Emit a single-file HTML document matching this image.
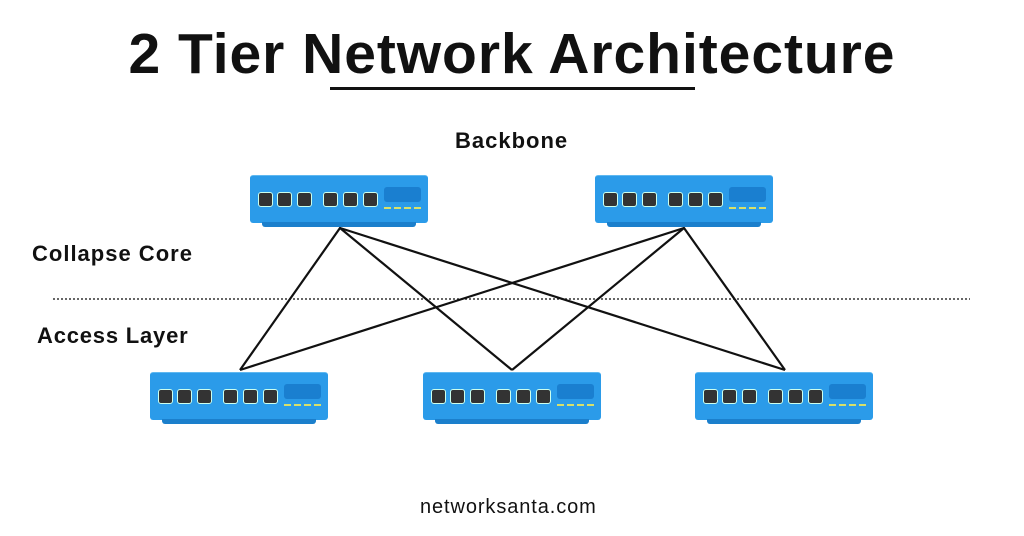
<!DOCTYPE html>
<html><head><style>
body{margin:0;width:1024px;height:536px;background:#fff;position:relative;overflow:hidden;font-family:"Liberation Sans",sans-serif}
.t{position:absolute;white-space:nowrap;color:#111}
.sw{position:absolute;width:178px;height:53px}
.b{position:absolute;left:0;top:0;width:178px;height:47px;background:#2b9be9;border-radius:3px;border-top:1px solid #5fb8f0}
.base{position:absolute;left:12px;top:47px;width:154px;height:5px;background:#1b7fcc;border-radius:0 0 3px 3px}
.p{position:absolute;top:17px;width:13px;height:13px;background:#333;border:1px solid #cfe;border-radius:3px}
.d{position:absolute;left:134px;top:12px;width:37px;height:15px;background:#1a7fd0;border-radius:3px}
.y{position:absolute;left:134px;top:32px;width:37px;height:2px;background:repeating-linear-gradient(90deg,#d8e06a 0 7px,transparent 7px 10px)}
</style></head><body>
<div class="t" style="left:0;width:1024px;text-align:center;top:21px;font-size:57px;font-weight:bold;letter-spacing:0.95px">2 Tier Network Architecture</div>
<div style="position:absolute;left:330px;top:87px;width:365px;height:3px;background:#111"></div>
<div class="t" style="left:455px;top:128px;font-size:22px;font-weight:bold;letter-spacing:1px">Backbone</div>
<div class="t" style="left:32px;top:241px;font-size:22px;font-weight:bold;letter-spacing:1px">Collapse Core</div>
<div class="t" style="left:37px;top:323px;font-size:22px;font-weight:bold;letter-spacing:0.8px">Access Layer</div>
<div class="t" style="left:420px;top:496px;font-size:20px;letter-spacing:0.9px">networksanta.com</div>
<svg style="position:absolute;left:0;top:0" width="1024" height="536">
<line x1="53" y1="299" x2="970" y2="299" stroke="#333" stroke-width="1.5" stroke-dasharray="2,2"/>
<g stroke="#111" stroke-width="2.2" fill="none">
<polyline points="240,370 340,228 512,370"/><line x1="340" y1="228" x2="785" y2="370"/>
<polyline points="512,370 684,228 785,370"/><line x1="684" y1="228" x2="240" y2="370"/>
</g></svg>
<div class="sw" style="left:250px;top:175px"><div class="b"></div><div class="base"></div><div class="p" style="left:8px"></div><div class="p" style="left:27px"></div><div class="p" style="left:47px"></div><div class="p" style="left:73px"></div><div class="p" style="left:93px"></div><div class="p" style="left:113px"></div><div class="d"></div><div class="y"></div></div>
<div class="sw" style="left:595px;top:175px"><div class="b"></div><div class="base"></div><div class="p" style="left:8px"></div><div class="p" style="left:27px"></div><div class="p" style="left:47px"></div><div class="p" style="left:73px"></div><div class="p" style="left:93px"></div><div class="p" style="left:113px"></div><div class="d"></div><div class="y"></div></div>
<div class="sw" style="left:150px;top:372px"><div class="b"></div><div class="base"></div><div class="p" style="left:8px"></div><div class="p" style="left:27px"></div><div class="p" style="left:47px"></div><div class="p" style="left:73px"></div><div class="p" style="left:93px"></div><div class="p" style="left:113px"></div><div class="d"></div><div class="y"></div></div>
<div class="sw" style="left:423px;top:372px"><div class="b"></div><div class="base"></div><div class="p" style="left:8px"></div><div class="p" style="left:27px"></div><div class="p" style="left:47px"></div><div class="p" style="left:73px"></div><div class="p" style="left:93px"></div><div class="p" style="left:113px"></div><div class="d"></div><div class="y"></div></div>
<div class="sw" style="left:695px;top:372px"><div class="b"></div><div class="base"></div><div class="p" style="left:8px"></div><div class="p" style="left:27px"></div><div class="p" style="left:47px"></div><div class="p" style="left:73px"></div><div class="p" style="left:93px"></div><div class="p" style="left:113px"></div><div class="d"></div><div class="y"></div></div>
</body></html>
